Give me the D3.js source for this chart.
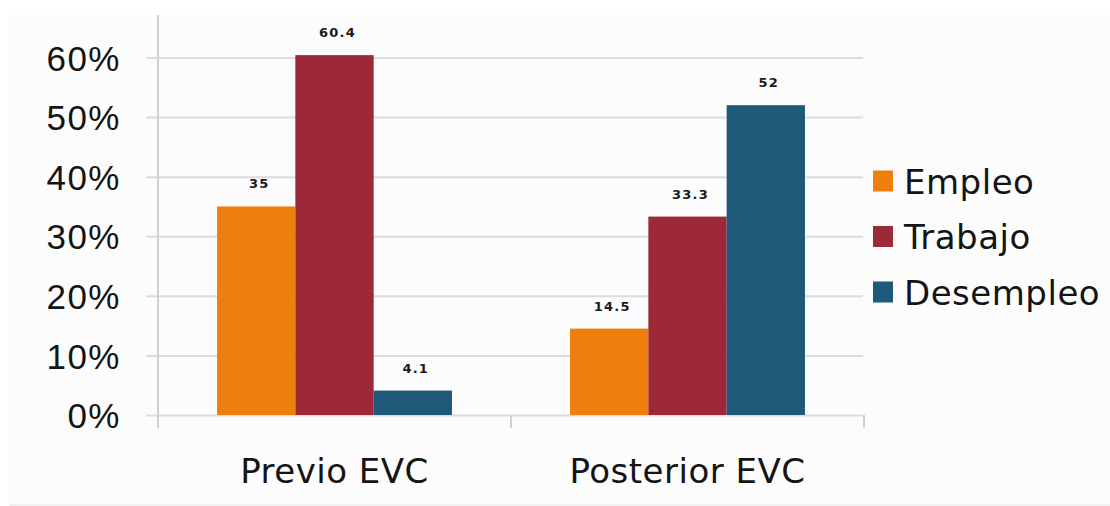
<!DOCTYPE html>
<html>
<head>
<meta charset="utf-8">
<script src="https://cdn.jsdelivr.net/npm/d3@7"></script>
<style>
  html, body { margin: 0; padding: 0; background: #ffffff; }
  svg { display: block; font-family: "DejaVu Sans", Verdana, sans-serif; }
</style>
</head>
<body>
<svg id="chart" width="1110" height="506"></svg>
<script>
// Grouped bars: situación laboral previa y posterior al EVC (%)
const categories = ["Previo EVC", "Posterior EVC"];
const seriesNames = ["Empleo", "Trabajo", "Desempleo"];
const empleo = [35, 14.5];
const trabajo = [60.4, 33.3];
const desempleo = [4.1, 52];
const yTicks = [0, 10, 20, 30, 40, 50, 60];
const seriesColors = ["#ef7f0d", "#9d2837", "#1e5979"];

const seriesValues = [empleo, trabajo, desempleo];

const svg = d3.select("#chart");

// panel background
svg.append("rect").attr("x", 9).attr("y", 15).attr("width", 1101).attr("height", 491).attr("fill", "#fcfcfc");
svg.append("rect").attr("x", 9).attr("y", 504).attr("width", 1101).attr("height", 2).attr("fill", "#f1f1f1");

const plotLeft = 158, plotRight = 864;
const y = d3.scaleLinear().domain([0, 60]).range([415, 57.5]);
const x0 = d3.scaleBand().domain(categories).range([plotLeft, plotRight]).padding(0);
const x1 = d3.scaleBand().domain(seriesNames).range([0, x0.bandwidth()]).paddingInner(0).paddingOuter(0.754);
const color = d3.scaleOrdinal().domain(seriesNames).range(seriesColors);

// y axis with gridlines
const yAxis = d3.axisLeft(y)
  .tickValues(yTicks)
  .tickFormat(d => d + "%")
  .tickSize(-(plotRight - 146 - 1))
  .tickPadding(25);

const gy = svg.append("g").attr("transform", "translate(146,0)").call(yAxis);
gy.select(".domain").remove();
gy.selectAll(".tick line").attr("stroke", "#dcdcdc").attr("stroke-width", 2);
gy.selectAll(".tick text")
  .attr("fill", "#141414")
  .attr("font-size", 35)
  .attr("letter-spacing", 1.5)
  .attr("dy", "0.36em");

// vertical axis line
svg.append("line")
  .attr("x1", plotLeft).attr("x2", plotLeft)
  .attr("y1", 15).attr("y2", 428)
  .attr("stroke", "#d0d0d0").attr("stroke-width", 2);

// category boundary ticks
svg.append("g").selectAll("line")
  .data(categories)
  .join("line")
  .attr("x1", d => x0(d) + x0.bandwidth())
  .attr("x2", d => x0(d) + x0.bandwidth())
  .attr("y1", y(0)).attr("y2", 428)
  .attr("stroke", "#d0d0d0").attr("stroke-width", 2);

// category labels
svg.append("g").selectAll("text")
  .data(categories)
  .join("text")
  .attr("x", d => x0(d) + x0.bandwidth() / 2)
  .attr("y", 483)
  .attr("text-anchor", "middle")
  .attr("font-size", 34)
  .attr("letter-spacing", 0.5)
  .attr("fill", "#141414")
  .text(d => d);

// bars
const rows = [];
categories.forEach((c, ci) => {
  seriesNames.forEach((s, si) => {
    rows.push({ category: c, series: s, value: seriesValues[si][ci] });
  });
});

const bars = svg.append("g");
bars.selectAll("rect")
  .data(rows)
  .join("rect")
  .attr("x", d => x0(d.category) + x1(d.series))
  .attr("y", d => y(d.value))
  .attr("width", x1.bandwidth())
  .attr("height", d => y(0) - y(d.value))
  .attr("fill", d => color(d.series));

// value labels
bars.selectAll("text")
  .data(rows)
  .join("text")
  .attr("x", d => x0(d.category) + x1(d.series) + x1.bandwidth() / 2 + 3)
  .attr("y", d => y(d.value) - 18)
  .attr("text-anchor", "middle")
  .attr("font-size", 13)
  .attr("font-weight", "bold")
  .attr("letter-spacing", 1.2)
  .attr("fill", "#1a1a1a")
  .text(d => d.value);

// legend
const legend = svg.append("g").attr("transform", "translate(873,181)");
const item = legend.selectAll("g")
  .data(seriesNames)
  .join("g")
  .attr("transform", (d, i) => `translate(0,${i * 55.5})`);
item.append("rect")
  .attr("x", 0).attr("y", -10.5)
  .attr("width", 20).attr("height", 21)
  .attr("fill", d => color(d));
item.append("text")
  .attr("x", 31).attr("y", 12.5)
  .attr("font-size", 34)
  .attr("letter-spacing", 0.5)
  .attr("fill", "#141414")
  .text(d => d);
</script>
</body>
</html>
